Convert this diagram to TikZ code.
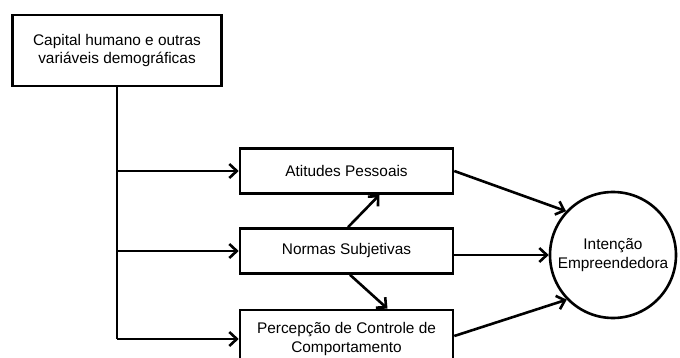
\documentclass[tikz,border=0pt]{standalone}
\usepackage{fontspec}
\setmainfont{Liberation Sans}
\usetikzlibrary{arrows.meta}
\begin{document}
\begin{tikzpicture}[x=1pt,y=-1pt,
  box/.style={draw,line width=2.6pt,rectangle,inner sep=0pt,align=center,
    font=\fontsize{15.4}{18.5}\selectfont},
  conn/.style={line width=2.6pt,-{Straight Barb[length=7.5pt,width=14pt,line width=2.6pt]}},
  trunk/.style={line width=2.6pt}]
\clip (0,0) rectangle (680,358);
\fill[white] (0,0) rectangle (680,358);
\node[box,minimum width=209pt,minimum height=71pt] (top) at (117,50.5) {Capital humano e outras\\variáveis demográficas};
\node[box,minimum width=213pt,minimum height=45pt] (ati) at (346.5,171) {Atitudes Pessoais};
\node[box,minimum width=213pt,minimum height=45pt] (nor) at (346.5,251) {Normas Subjetivas};
\node[box,minimum width=213pt,minimum height=58pt] (per) at (346.5,339) {Percepção de Controle de\\Comportamento};
\node[draw,circle,line width=2.6pt,minimum size=126pt,inner sep=0pt,align=center,
  font=\fontsize{15.4}{18.5}\selectfont] (int) at (613,255) {Intenção\\Empreendedora};
\draw[trunk] (top.south) -- (top.south |- per.west);
\draw[conn] (top.south |- ati.west) -- (ati.west);
\draw[conn] (top.south |- nor.west) -- (nor.west);
\draw[conn] (top.south |- per.west) -- (per.west);
\draw[conn] ([xshift=1.5pt]nor.north) -- ([xshift=33pt]ati.south);
\draw[conn] ([xshift=3.5pt]nor.south) -- ([xshift=41pt]per.north);
\draw[conn] (ati.east) -- (int.137);
\draw[conn] (nor.east |- int.west) -- (int.west);
\draw[conn] ([yshift=3pt]per.east) -- (int.224);
\end{tikzpicture}
\end{document}
